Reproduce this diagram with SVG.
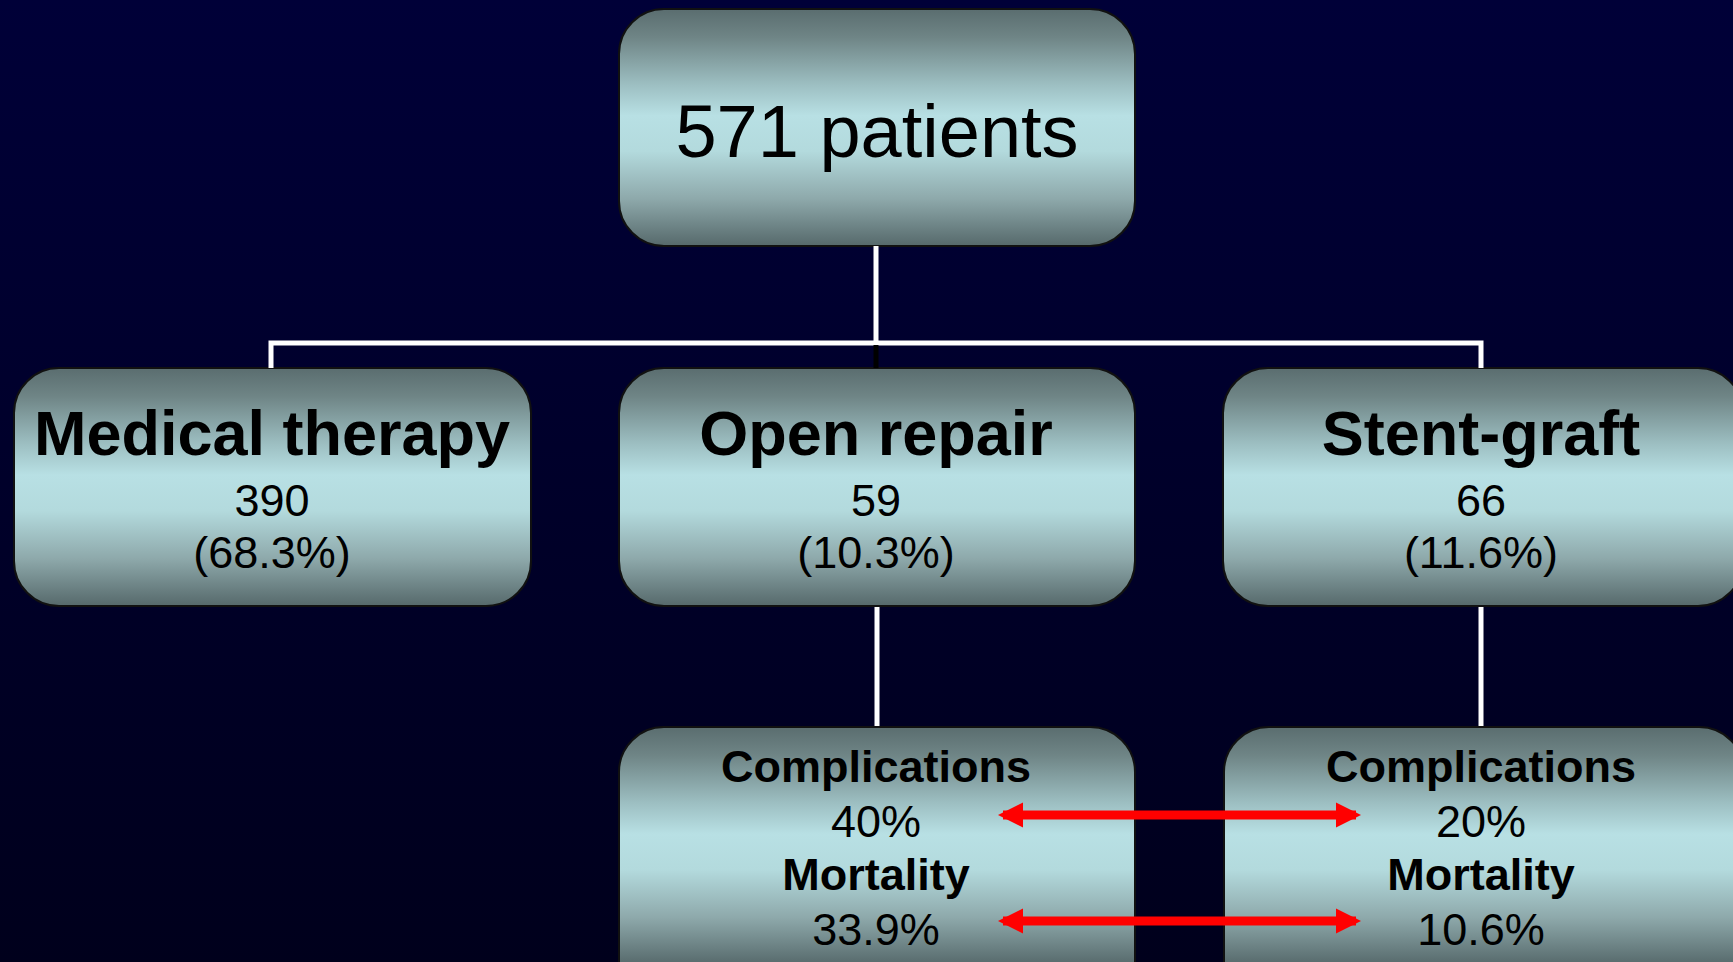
<svg xmlns="http://www.w3.org/2000/svg" width="1733" height="962" viewBox="0 0 1733 962">
<defs>
<linearGradient id="bg" x1="0" y1="0" x2="0" y2="1">
<stop offset="0" stop-color="#000038"/>
<stop offset="1" stop-color="#00001c"/>
</linearGradient>
<linearGradient id="box" x1="0" y1="0" x2="0" y2="1">
<stop offset="0" stop-color="#5a6d6f"/>
<stop offset="0.12" stop-color="#6f8586"/>
<stop offset="0.32" stop-color="#9dbfc2"/>
<stop offset="0.45" stop-color="#b8e0e4"/>
<stop offset="0.6" stop-color="#b3dadd"/>
<stop offset="0.8" stop-color="#8ea9ab"/>
<stop offset="1" stop-color="#56696b"/>
</linearGradient>
<linearGradient id="boxTall" gradientUnits="userSpaceOnUse" x1="0" y1="727" x2="0" y2="965">
<stop offset="0" stop-color="#5a6d6f"/>
<stop offset="0.12" stop-color="#6f8586"/>
<stop offset="0.32" stop-color="#9dbfc2"/>
<stop offset="0.45" stop-color="#b8e0e4"/>
<stop offset="0.6" stop-color="#b3dadd"/>
<stop offset="0.8" stop-color="#8ea9ab"/>
<stop offset="1" stop-color="#56696b"/>
</linearGradient>
<marker id="ah" viewBox="0 0 10 10" refX="8" refY="5" markerWidth="2.8" markerHeight="2.8" orient="auto-start-reverse" markerUnits="strokeWidth">
<path d="M0,0 L10,5 L0,10 Z" fill="#ff0000"/>
</marker>
</defs>
<style>
.box{stroke:#111;stroke-width:2}
.t{font-family:"Liberation Sans",Arial,sans-serif;fill:#000;text-anchor:middle}
.b{font-weight:bold}
.wire{stroke:#fff;stroke-width:5;fill:none}
.red{stroke:#ff0000;stroke-width:9;fill:none}
</style>
<rect x="0" y="0" width="1733" height="962" fill="url(#bg)"/>

<g id="top">
<rect class="box" x="619" y="9" width="516" height="237" rx="45" fill="url(#box)"/>
<text class="t" x="877" y="157" font-size="74">571 patients</text>
</g>

<g id="medical">
<rect class="box" x="14" y="368" width="517" height="238" rx="45" fill="url(#box)"/>
<text class="t b" x="272" y="455" font-size="63">Medical therapy</text>
<text class="t" x="272" y="516" font-size="45">390</text>
<text class="t" x="272" y="568" font-size="45">(68.3%)</text>
</g>

<g id="open">
<rect class="box" x="619" y="368" width="516" height="238" rx="45" fill="url(#box)"/>
<text class="t b" x="876" y="455" font-size="63">Open repair</text>
<text class="t" x="876" y="516" font-size="45">59</text>
<text class="t" x="876" y="568" font-size="45">(10.3%)</text>
</g>

<g id="stent">
<rect class="box" x="1223" y="368" width="520" height="238" rx="45" fill="url(#box)"/>
<text class="t b" x="1481" y="455" font-size="63">Stent-graft</text>
<text class="t" x="1481" y="516" font-size="45">66</text>
<text class="t" x="1481" y="568" font-size="45">(11.6%)</text>
</g>

<g id="open-outcome">
<rect class="box" x="619" y="727" width="516" height="300" rx="45" fill="url(#boxTall)"/>
<text class="t b" x="876" y="782" font-size="45">Complications</text>
<text class="t" x="876" y="837" font-size="45">40%</text>
<text class="t b" x="876" y="890" font-size="45">Mortality</text>
<text class="t" x="876" y="945" font-size="45">33.9%</text>
</g>

<g id="stent-outcome">
<rect class="box" x="1224" y="727" width="520" height="300" rx="45" fill="url(#boxTall)"/>
<text class="t b" x="1481" y="782" font-size="45">Complications</text>
<text class="t" x="1481" y="837" font-size="45">20%</text>
<text class="t b" x="1481" y="890" font-size="45">Mortality</text>
<text class="t" x="1481" y="945" font-size="45">10.6%</text>
</g>

<g id="connectors">
<line class="wire" x1="876" y1="246" x2="876" y2="343"/>
<polyline class="wire" points="271,368 271,343 1481,343 1481,368"/>
<line x1="876" y1="345" x2="876" y2="368" stroke="#000" stroke-width="5"/>
<line class="wire" x1="877" y1="607" x2="877" y2="726"/>
<line class="wire" x1="1481" y1="607" x2="1481" y2="726"/>
<line class="red" x1="1003" y1="815" x2="1356" y2="815" marker-start="url(#ah)" marker-end="url(#ah)"/>
<line class="red" x1="1003" y1="921" x2="1356" y2="921" marker-start="url(#ah)" marker-end="url(#ah)"/>
</g>
</svg>
